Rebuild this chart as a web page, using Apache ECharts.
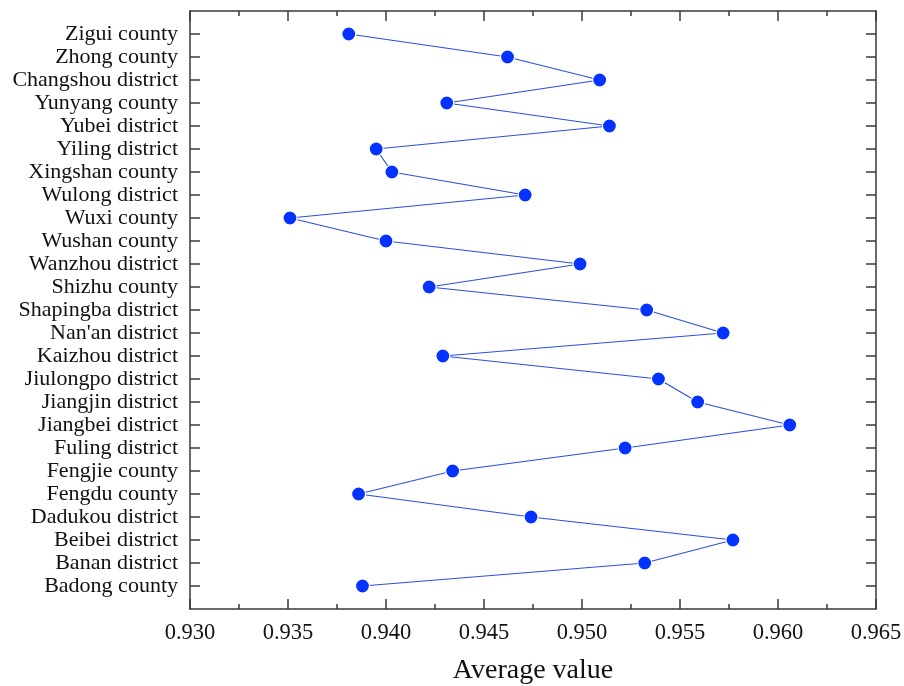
<!DOCTYPE html>
<html>
<head>
<meta charset="utf-8">
<script src="https://cdn.jsdelivr.net/npm/echarts@6/dist/echarts.min.js"></script>
<style>html,body{margin:0;padding:0;background:#fff;}#c{width:904px;height:686px;}</style>
</head>
<body>
<div id="c"></div>
<script>
// categories listed bottom to top
const categories = [
  'Badong county','Banan district','Beibei district','Dadukou district','Fengdu county',
  'Fengjie county','Fuling district','Jiangbei district','Jiangjin district','Jiulongpo district',
  'Kaizhou district',"Nan'an district",'Shapingba district','Shizhu county','Wanzhou district',
  'Wushan county','Wuxi county','Wulong district','Xingshan county','Yiling district',
  'Yubei district','Yunyang county','Changshou district','Zhong county','Zigui county'
];
const values = [
  0.9388, 0.9532, 0.9577, 0.9474, 0.9386,
  0.9434, 0.9522, 0.9606, 0.9559, 0.9539,
  0.9429, 0.9572, 0.9533, 0.9422, 0.9499,
  0.9400, 0.9351, 0.9471, 0.9403, 0.9395,
  0.9514, 0.9431, 0.9509, 0.9462, 0.9381
];
const xTicks = { min: 0.930, max: 0.965, interval: 0.005 };

const chart = echarts.init(document.getElementById('c'), null, { renderer: 'canvas' });
const serif = '"Liberation Serif", "Times New Roman", serif';
const axisColor = '#3a3a3a';
const seriesData = values.map((v, i) => [v, i]);
const yMin = -1, yMax = categories.length;

const xCommon = {
  type: 'value', min: xTicks.min, max: xTicks.max, interval: xTicks.interval,
  splitLine: { show: false },
  axisLine: { show: true, onZero: false, lineStyle: { color: axisColor, width: 1.5 } },
  axisTick: { show: true, inside: true, length: 10, lineStyle: { color: axisColor, width: 1.5 } },
  minorTick: { show: true, splitNumber: 2, length: 5, lineStyle: { color: axisColor, width: 1.5 } },
  minorSplitLine: { show: false }
};
const yCommon = {
  type: 'value', min: yMin, max: yMax, interval: 1,
  splitLine: { show: false },
  axisLine: { show: true, onZero: false, lineStyle: { color: axisColor, width: 1.5 } },
  axisTick: { show: true, inside: true, length: 10, lineStyle: { color: axisColor, width: 1.5 },
    customValues: categories.map((c, i) => i) }
};

chart.setOption({
  backgroundColor: '#ffffff',
  animation: false,
  grid: { left: 190, right: 28, top: 11, bottom: 77, containLabel: false, outerBoundsMode: 'none' },
  xAxis: [
    Object.assign({}, xCommon, {
      position: 'bottom',
      name: 'Average value', nameLocation: 'middle', nameGap: 48,
      nameTextStyle: { fontFamily: serif, fontSize: 28, color: '#111' },
      axisLabel: { show: true, margin: 13, fontFamily: serif, fontSize: 22.5, color: '#111',
        formatter: v => v.toFixed(3) }
    }),
    Object.assign({}, xCommon, { position: 'top', axisLabel: { show: false } })
  ],
  yAxis: [
    Object.assign({}, yCommon, {
      position: 'left',
      axisLabel: { show: true, margin: 12, fontFamily: serif, fontSize: 22, color: '#111',
        customValues: categories.map((c, i) => i),
        formatter: v => categories[Math.round(v)] || '' }
    }),
    Object.assign({}, yCommon, { position: 'right', axisLabel: { show: false } })
  ],
  series: [{
    type: 'line',
    xAxisIndex: 0, yAxisIndex: 0,
    data: seriesData,
    symbol: 'circle', symbolSize: 14,
    itemStyle: { color: '#0433ff', borderColor: '#ffffff', borderWidth: 1.2 },
    lineStyle: { color: '#2d4fe0', width: 1.2 },
    z: 3
  }]
});
</script>
</body>
</html>
